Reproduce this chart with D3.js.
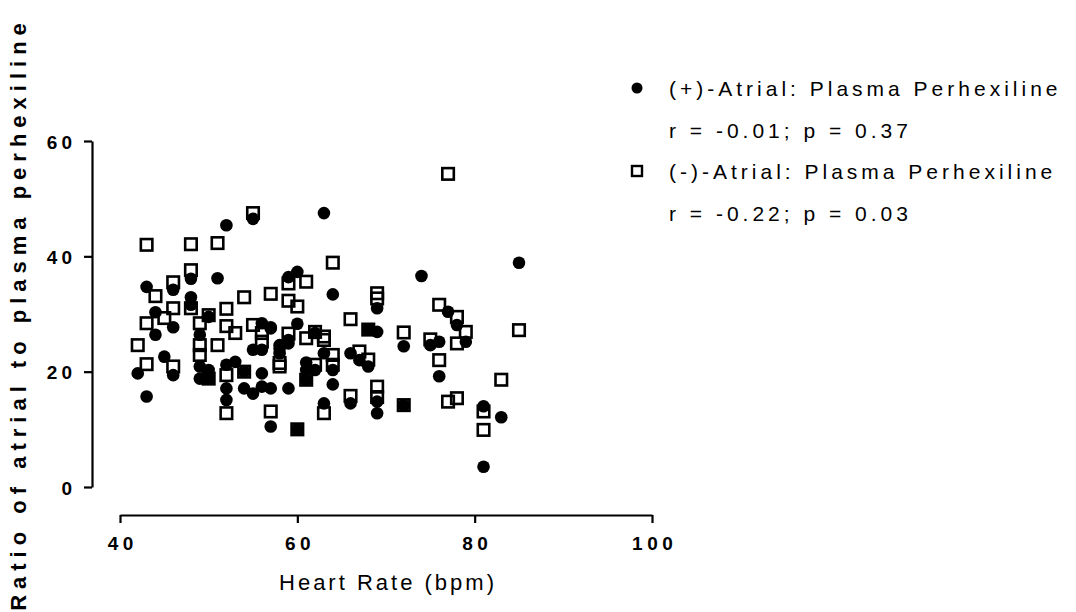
<!DOCTYPE html>
<html>
<head>
<meta charset="utf-8">
<script src="https://cdn.jsdelivr.net/npm/d3@7"></script>
<style>
  html, body { margin: 0; padding: 0; background: #fff; }
  svg { display: block; }
  text { font-family: "Liberation Sans", Arial, Helvetica, sans-serif; fill: #000; }
</style>
</head>
<body>
<svg id="chart" width="1076" height="612"></svg>
<script>
// (+)-Atrial: Plasma Perhexiline — heart rate (bpm) and atrial/plasma ratio
const hrPos = [55, 52, 48, 46, 51, 43, 48, 48, 50, 44, 46, 56, 57, 44, 49, 42, 45, 46, 43, 49,
  49, 50, 50, 52, 53, 52, 52, 54, 55, 56, 56, 57, 55, 56, 57, 58, 58, 59, 57, 54,
  63, 74, 60, 59, 64, 69, 60, 62, 69, 68, 77, 78, 72, 76, 75, 79, 76, 59, 58, 59,
  61, 62, 61, 63, 64, 64, 66, 67, 68, 63, 66, 69, 69, 61, 72, 60, 85, 81, 83, 81];
const ratioPos = [46.5, 45.4, 36.1, 34.2, 36.2, 34.7, 32.9, 31.6, 29.5, 30.3, 27.7, 28.4, 27.7, 26.4, 26.4, 19.7, 22.6, 19.4, 15.7, 20.9,
  18.8, 20.3, 18.8, 21.2, 21.7, 17.1, 15.1, 17.1, 16.2, 19.7, 17.4, 17.1, 23.8, 23.8, 27.5, 24.6, 23.2, 17.1, 10.5, 20.0,
  47.5, 36.6, 37.3, 36.4, 33.4, 31.0, 28.3, 26.7, 26.9, 27.3, 30.4, 28.1, 24.4, 25.2, 24.6, 25.2, 19.2, 25.5, 24.0, 24.9,
  21.6, 20.3, 20.3, 23.2, 20.3, 17.8, 23.2, 22.0, 20.9, 14.5, 14.5, 12.8, 14.8, 18.6, 14.2, 10.0, 38.9, 14.0, 12.1, 3.5];

// (-)-Atrial: Plasma Perhexiline
const hrNeg = [55, 43, 48, 51, 48, 46, 44, 54, 57, 46, 48, 50, 52, 45, 43, 49, 52, 53, 55, 42,
  43, 46, 49, 51, 49, 50, 52, 54, 52, 57, 58, 56, 56, 59, 64, 59, 61, 59, 60, 69,
  69, 66, 72, 76, 78, 79, 62, 63, 68, 61, 63, 75, 78, 76, 64, 64, 62, 61, 58, 67,
  68, 66, 69, 69, 63, 72, 60, 77, 78, 77, 85, 83, 81, 81];
const ratioNeg = [47.5, 42.0, 42.1, 42.3, 37.6, 35.5, 33.1, 32.9, 33.5, 31.0, 31.0, 29.8, 30.9, 29.3, 28.4, 28.4, 27.9, 26.7, 28.1, 24.6,
  21.3, 20.9, 24.6, 24.6, 22.9, 18.8, 19.4, 20.0, 12.8, 13.1, 21.5, 26.7, 25.2, 26.6, 38.9, 35.3, 35.6, 32.3, 31.3, 33.6,
  32.7, 29.1, 26.8, 31.6, 29.5, 26.9, 26.9, 26.1, 27.3, 25.8, 25.5, 25.6, 24.9, 22.0, 22.9, 21.2, 21.2, 18.6, 20.9, 23.5,
  22.1, 15.8, 17.4, 15.6, 12.8, 14.2, 10.0, 14.8, 15.4, 54.3, 27.2, 18.6, 13.1, 9.9];

const xTicks = [40, 60, 80, 100];
const yTicks = [0, 20, 40, 60];
const legendLabels = ["(+)-Atrial: Plasma Perhexiline", "r = -0.01; p = 0.37",
                      "(-)-Atrial: Plasma Perhexiline", "r = -0.22; p = 0.03"];

const svg = d3.select("#chart");

const x = d3.scaleLinear().domain([40, 100]).range([120, 652]);
const y = d3.scaleLinear().domain([0, 60]).range([487, 141]);

const yAxisX = 92;
const xAxisY = 515;

// Y axis
const gy = svg.append("g")
  .attr("transform", `translate(${yAxisX},0)`)
  .call(d3.axisLeft(y).tickValues(yTicks).tickSize(8).tickSizeOuter(0).tickPadding(8));
gy.select(".domain").attr("stroke", "#000").attr("stroke-width", 2.2);
gy.selectAll(".tick line").attr("stroke", "#000").attr("stroke-width", 2.2);
gy.selectAll(".tick text")
  .attr("font-family", "Liberation Sans, Arial, sans-serif")
  .attr("font-size", 19).attr("font-weight", "bold")
  .attr("letter-spacing", "4px").attr("dy", "0.38em").attr("fill", "#000");

// X axis
const gx = svg.append("g")
  .attr("transform", `translate(0,${xAxisY})`)
  .call(d3.axisBottom(x).tickValues(xTicks).tickSize(8).tickSizeOuter(0).tickPadding(14));
gx.select(".domain").attr("stroke", "#000").attr("stroke-width", 2.2);
gx.selectAll(".tick text")
  .attr("font-family", "Liberation Sans, Arial, sans-serif")
  .attr("font-size", 19).attr("font-weight", "bold")
  .attr("letter-spacing", "4.5px").attr("dx", "2.2px").attr("fill", "#000");
gx.selectAll(".tick line").attr("stroke", "#000").attr("stroke-width", 2.2);

// Axis titles
svg.append("text")
  .attr("x", (x.range()[0] + x.range()[1]) / 2 + 2)
  .attr("y", 590)
  .attr("text-anchor", "middle")
  .attr("font-size", 22)
  .attr("letter-spacing", "3px")
  .text("Heart Rate (bpm)");

svg.append("text")
  .attr("transform", `translate(26,${(y.range()[0] + y.range()[1]) / 2}) rotate(-90)`)
  .attr("text-anchor", "middle")
  .attr("font-size", 22)
  .attr("font-weight", "bold")
  .attr("letter-spacing", "6px")
  .text("Ratio of atrial to plasma perhexiline");

// Markers: hollow squares first, filled circles on top
const sq = 11.5;
const negData = hrNeg.map((h, i) => ({ h, v: ratioNeg[i] }));
const posData = hrPos.map((h, i) => ({ h, v: ratioPos[i] }));

svg.append("g").selectAll("rect").data(negData).join("rect")
  .attr("x", d => x(d.h) - sq / 2)
  .attr("y", d => y(d.v) - sq / 2)
  .attr("width", sq).attr("height", sq)
  .attr("fill", "none").attr("stroke", "#000").attr("stroke-width", 2.6);

svg.append("g").selectAll("circle").data(posData).join("circle")
  .attr("cx", d => x(d.h))
  .attr("cy", d => y(d.v))
  .attr("r", 6.3)
  .attr("fill", "#000");

// Legend
const lg = svg.append("g");
lg.append("circle").attr("cx", 637).attr("cy", 88).attr("r", 5.5).attr("fill", "#000");
lg.append("rect").attr("x", 637 - 5).attr("y", 171 - 5).attr("width", 10).attr("height", 10)
  .attr("fill", "none").attr("stroke", "#000").attr("stroke-width", 2.4);
const legendY = [88, 130, 171, 213];
lg.selectAll("text").data(legendLabels).join("text")
  .attr("x", 669)
  .attr("y", (d, i) => legendY[i])
  .attr("dy", "0.36em")
  .attr("font-size", 21)
  .attr("letter-spacing", "4px")
  .text(d => d);
</script>
</body>
</html>
